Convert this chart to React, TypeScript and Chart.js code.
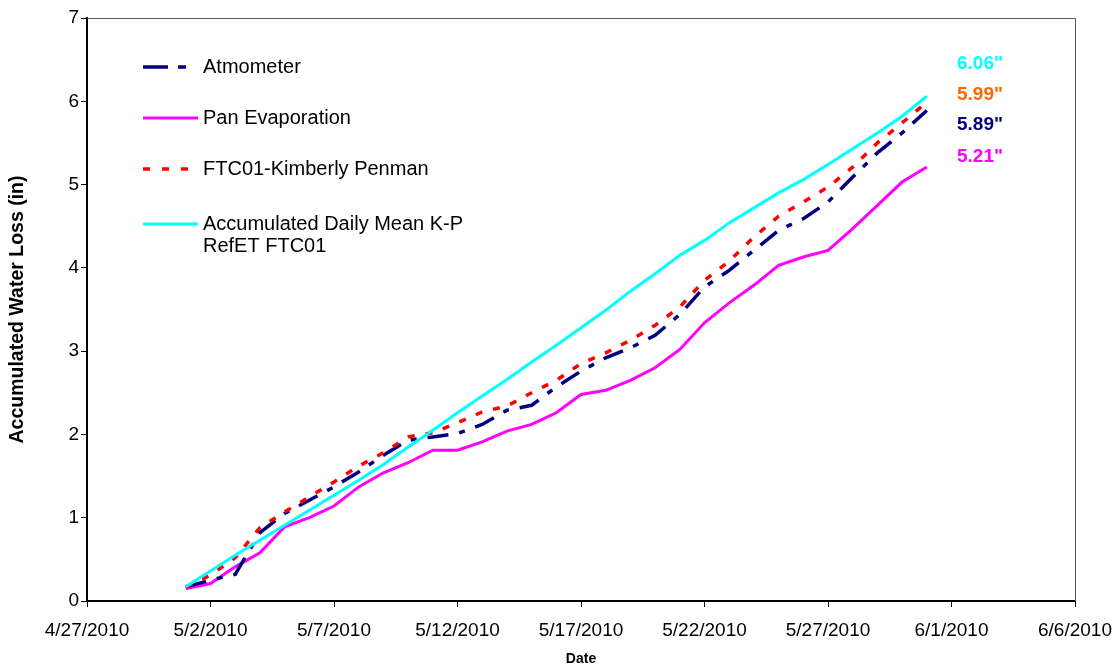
import React, { useEffect, useRef } from "react";
import { Chart, registerables } from "chart.js";

Chart.register(...registerables);

const FONT = "'Liberation Sans', Arial, Helvetica, sans-serif";

const startDate = "4/27/2010";
const dates = [
  "5/1/2010", "5/2/2010", "5/3/2010", "5/4/2010", "5/5/2010", "5/6/2010", "5/7/2010", "5/8/2010",
  "5/9/2010", "5/10/2010", "5/11/2010", "5/12/2010", "5/13/2010", "5/14/2010", "5/15/2010", "5/16/2010",
  "5/17/2010", "5/18/2010", "5/19/2010", "5/20/2010", "5/21/2010", "5/22/2010", "5/23/2010", "5/24/2010",
  "5/25/2010", "5/26/2010", "5/27/2010", "5/28/2010", "5/29/2010", "5/30/2010", "5/31/2010",
];
const xTickLabels = [
  "4/27/2010", "5/2/2010", "5/7/2010", "5/12/2010", "5/17/2010", "5/22/2010", "5/27/2010", "6/1/2010", "6/6/2010",
];
const yTicks = [0, 1, 2, 3, 4, 5, 6, 7];

const atmometer = [0.17, 0.25, 0.32, 0.82, 1.05, 1.21, 1.37, 1.55, 1.75, 1.93, 1.97, 2.01, 2.12, 2.29, 2.35, 2.57, 2.76, 2.92, 3.04, 3.19, 3.44, 3.77, 3.97, 4.21, 4.45, 4.59, 4.79, 5.09, 5.38, 5.62, 5.89];
const panEvap = [0.15, 0.21, 0.41, 0.58, 0.89, 1.0, 1.14, 1.37, 1.54, 1.66, 1.81, 1.81, 1.91, 2.04, 2.12, 2.26, 2.48, 2.53, 2.65, 2.8, 3.02, 3.34, 3.58, 3.79, 4.03, 4.13, 4.21, 4.47, 4.75, 5.03, 5.21];
const kimberly = [0.17, 0.31, 0.52, 0.88, 1.07, 1.25, 1.43, 1.62, 1.78, 1.97, 2.02, 2.14, 2.27, 2.34, 2.5, 2.65, 2.85, 2.98, 3.13, 3.31, 3.53, 3.85, 4.08, 4.37, 4.62, 4.79, 4.97, 5.21, 5.5, 5.74, 5.99];
const dailyMeanKP = [0.17, 0.36, 0.55, 0.73, 0.91, 1.09, 1.27, 1.45, 1.64, 1.85, 2.05, 2.26, 2.46, 2.66, 2.87, 3.07, 3.28, 3.49, 3.72, 3.93, 4.15, 4.33, 4.54, 4.72, 4.9, 5.06, 5.24, 5.43, 5.62, 5.82, 6.06];

const seriesNames = ["Atmometer", "Pan Evaporation", "FTC01-Kimberly Penman", "Accumulated Daily Mean K-P|RefET FTC01"];
const seriesColors = ["#000080", "#FF00FF", "#FF0000", "#00FFFF"];
const endLabels = ['6.06"', '5.99"', '5.89"', '5.21"'];
const endLabelColors = ["#00FFFF", "#FF6600", "#000080", "#FF00FF"];

const DAY = 86400000;
const dayIndex = (s: string) => {
  const [m, d, y] = s.split("/").map(Number);
  const [m0, d0, y0] = startDate.split("/").map(Number);
  return Math.round((Date.UTC(y, m - 1, d) - Date.UTC(y0, m0 - 1, d0)) / DAY);
};
const toPoints = (vals: number[]) => vals.map((v, i) => ({ x: dayIndex(dates[i]), y: v }));

const dashes = [[21, 11, 6, 11], [], [7, 11], []];
const widths = [3.5, 3, 3.5, 3];

export default function App() {
  const ref = useRef<HTMLCanvasElement | null>(null);
  useEffect(() => {
    if (!ref.current) return;
    const allSeries = [atmometer, panEvap, kimberly, dailyMeanKP];
    const drawOrder = [3, 4, 2, 1];
    const frame = {
      id: "frameAndLegend",
      afterDraw(chart: any) {
        const { ctx, chartArea: a } = chart;
        ctx.save();
        ctx.strokeStyle = "#555";
        ctx.lineWidth = 1;
        ctx.beginPath();
        ctx.moveTo(a.left, a.top + 0.5);
        ctx.lineTo(a.right + 0.5, a.top + 0.5);
        ctx.lineTo(a.right + 0.5, a.bottom);
        ctx.stroke();

        // legend
        const rowsY = [67, 118, 169, 224];
        seriesNames.forEach((name, i) => {
          const y = rowsY[i];
          ctx.strokeStyle = seriesColors[i];
          ctx.lineWidth = widths[i];
          ctx.setLineDash(i === 0 ? [25, 10, 8, 20] : i === 2 ? [7, 12] : []);
          ctx.beginPath();
          ctx.moveTo(143, y);
          ctx.lineTo(198, y);
          ctx.stroke();
          ctx.setLineDash([]);
          ctx.fillStyle = "#000";
          ctx.font = `20px ${FONT}`;
          ctx.textBaseline = "middle";
          ctx.textAlign = "left";
          name.split("|").forEach((ln, k) => ctx.fillText(ln, 203, y + k * 22));
        });

        // end labels
        const labY = [64, 95, 125, 157];
        ctx.font = `bold 19px ${FONT}`;
        endLabels.forEach((t, i) => {
          ctx.fillStyle = endLabelColors[i];
          ctx.fillText(t, 957, labY[i]);
        });
        ctx.restore();
      },
    };

    const chart = new Chart(ref.current, {
      type: "line",
      data: {
        datasets: allSeries.map((vals, i) => ({
          label: seriesNames[i].replace("|", " "),
          data: toPoints(vals),
          borderColor: seriesColors[i],
          backgroundColor: seriesColors[i],
          borderWidth: widths[i],
          borderDash: dashes[i],
          pointRadius: 0,
          tension: 0,
          fill: false,
          order: drawOrder[i],
          borderCapStyle: "butt" as const,
        })),
      },
      options: {
        animation: false,
        responsive: false,
        devicePixelRatio: 1,
        layout: { padding: { left: 0, top: 18, right: 44, bottom: 0 } },
        plugins: { legend: { display: false }, tooltip: { enabled: false } },
        scales: {
          x: {
            type: "linear",
            min: 0,
            max: 40,
            afterBuildTicks: (s: any) => {
              s.ticks = xTickLabels.map((_, i) => ({ value: i * 5 }));
            },
            afterFit: (s: any) => {
              s.height = 67;
              s.paddingLeft = 0;
              s.paddingRight = 0;
            },
            ticks: {
              autoSkip: false,
              maxRotation: 0,
              minRotation: 0,
              color: "#000",
              padding: 12,
              font: { family: FONT, size: 19 },
              callback: (v: any) => xTickLabels[Math.round(Number(v) / 5)],
            },
            grid: { drawOnChartArea: false, drawTicks: true, tickLength: 6, color: "#000", lineWidth: 1 },
            border: { display: true, color: "#000", width: 2 },
            title: {
              display: true,
              text: "Date",
              color: "#000",
              font: { family: FONT, size: 14, weight: "bold" },
              padding: { top: 0, bottom: 0 },
            },
          },
          y: {
            min: 0,
            max: 7,
            afterBuildTicks: (s: any) => {
              s.ticks = yTicks.map((v) => ({ value: v }));
            },
            afterFit: (s: any) => {
              s.width = 87;
              s.paddingTop = 0;
              s.paddingBottom = 0;
            },
            ticks: {
              color: "#000",
              padding: 2,
              font: { family: FONT, size: 19 },
            },
            grid: { drawOnChartArea: false, drawTicks: true, tickLength: 6, color: "#000", lineWidth: 1 },
            border: { display: true, color: "#000", width: 2 },
            title: {
              display: true,
              text: "Accumulated Water Loss (in)",
              color: "#000",
              font: { family: FONT, size: 19.5, weight: "bold" },
              padding: { top: 6, bottom: 0 },
            },
          },
        },
      },
      plugins: [frame],
    } as any);
    return () => chart.destroy();
  }, []);

  return (
    <div style={{ position: "fixed", left: 0, top: 0, width: 1119, height: 668, background: "#fff" }}>
      <canvas ref={ref} width={1119} height={668} style={{ display: "block" }} />
    </div>
  );
}
